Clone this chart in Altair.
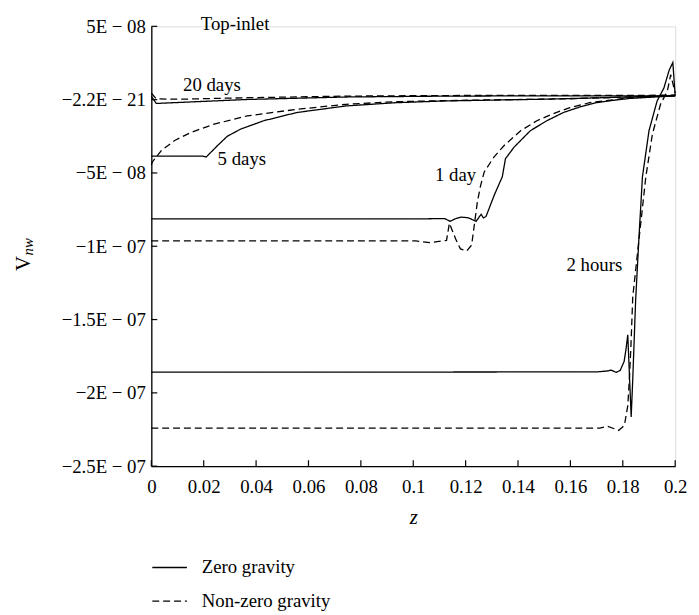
import altair as alt
import pandas as pd

FONT = "Liberation Serif"

# ---- data ----
z_2h_zero = [0, 0.1, 0.17, 0.1745, 0.1755, 0.1775, 0.179, 0.1805, 0.1812, 0.1819, 0.1826, 0.1832,
             0.1838, 0.1849, 0.1862, 0.1875, 0.1900, 0.1931, 0.1957, 0.1977, 0.1991, 0.2]
v_2h_zero = [-18.58e-8, -18.58e-8, -18.57e-8, -18.50e-8, -18.45e-8, -18.60e-8, -18.47e-8, -17.86e-8,
             -17.05e-8, -16.04e-8, -19.08e-8, -21.64e-8, -19.08e-8, -13.69e-8, -9.31e-8, -5.26e-8,
             -2.12e-8, -0.09e-8, 0.80e-8, 2.01e-8, 2.53e-8, 0.26e-8]

z_2h_grav = [0, 0.1, 0.1712, 0.1743, 0.1768, 0.1784, 0.1806, 0.1819, 0.1825, 0.1831, 0.1838, 0.1863,
             0.1888, 0.1913, 0.1944, 0.1970, 0.1983, 0.2]
v_2h_grav = [-22.40e-8, -22.40e-8, -22.40e-8, -22.29e-8, -22.45e-8, -22.56e-8, -22.22e-8, -20.88e-8,
             -19.08e-8, -16.83e-8, -13.46e-8, -9.33e-8, -5.26e-8, -2.35e-8, -0.32e-8, 0.58e-8,
             1.70e-8, 0.46e-8]

z_1d_zero = [0, 0.1, 0.112, 0.1141, 0.1160, 0.1183, 0.121, 0.124, 0.1259, 0.1268, 0.1278, 0.131,
             0.134, 0.1352, 0.1385, 0.1447, 0.151, 0.1573, 0.1636, 0.1698, 0.1762, 0.1825, 0.2]
v_1d_zero = [-8.14e-8, -8.14e-8, -8.11e-8, -8.30e-8, -8.13e-8, -8.01e-8, -8.06e-8, -8.30e-8, -7.82e-8,
             -8.07e-8, -7.96e-8, -6.48e-8, -5.26e-8, -4.03e-8, -3.24e-8, -2.12e-8, -1.44e-8, -0.88e-8,
             -0.50e-8, -0.21e-8, -0.05e-8, 0.08e-8, 0.26e-8]

z_1d_grav = [0, 0.1008, 0.1064, 0.1127, 0.1138, 0.1162, 0.118, 0.1204, 0.1223, 0.1245, 0.1257,
             0.1271, 0.1308, 0.1347, 0.141, 0.1472, 0.1535, 0.1598, 0.1674, 0.1762, 0.1825, 0.2]
v_1d_grav = [-9.64e-8, -9.64e-8, -9.76e-8, -9.60e-8, -8.43e-8, -9.51e-8, -10.18e-8, -10.32e-8,
             -9.91e-8, -6.95e-8, -5.87e-8, -4.93e-8, -3.92e-8, -3.13e-8, -2.12e-8, -1.44e-8,
             -0.95e-8, -0.55e-8, -0.21e-8, -0.01e-8, 0.13e-8, 0.30e-8]

z_5d_zero = [0, 0.0196, 0.0209, 0.0253, 0.029, 0.0341, 0.0429, 0.0555, 0.0743, 0.0932, 0.112, 0.15, 0.2]
v_5d_zero = [-3.85e-8, -3.85e-8, -3.92e-8, -3.13e-8, -2.50e-8, -2.01e-8, -1.44e-8, -0.88e-8,
             -0.43e-8, -0.21e-8, -0.09e-8, 0.03e-8, 0.26e-8]

z_5d_grav = [0, 0.0004, 0.0039, 0.0089, 0.0152, 0.024, 0.0366, 0.0555, 0.0743, 0.093, 0.12, 0.16, 0.2]
v_5d_grav = [-4.45e-8, -4.25e-8, -3.46e-8, -2.79e-8, -2.23e-8, -1.67e-8, -1.11e-8, -0.66e-8,
             -0.32e-8, -0.14e-8, -0.04e-8, 0.06e-8, 0.28e-8]

z_20d_zero = [0, 0.0019, 0.0365, 0.0743, 0.112, 0.15, 0.2]
v_20d_zero = [0.23e-8, -0.26e-8, 0.01e-8, 0.18e-8, 0.24e-8, 0.26e-8, 0.26e-8]

z_20d_grav = [0, 0.0019, 0.0113, 0.0366, 0.0743, 0.112, 0.2]
v_20d_grav = [0.45e-8, 0.05e-8, 0.03e-8, 0.13e-8, 0.24e-8, 0.28e-8, 0.30e-8]

gravity_names = ["Zero gravity", "Non-zero gravity"]

x_ticks = [0, 0.02, 0.04, 0.06, 0.08, 0.1, 0.12, 0.14, 0.16, 0.18, 0.2]
y_ticks = [5e-8, 0, -5e-8, -1e-7, -1.5e-7, -2e-7, -2.5e-7]
y_tick_labels = ["5E \u2212 08", "\u22122.2E \u2212 21", "\u22125E \u2212 08", "\u22121E \u2212 07",
                 "\u22121.5E \u2212 07", "\u22122E \u2212 07", "\u22122.5E \u2212 07"]

ann_text = ["20 days", "5 days", "1 day", "2 hours", "Top-inlet"]
ann_z = [0.0121, 0.0253, 0.1083, 0.1585, 0.0189]
ann_v = [1.0e-8, -4.05e-8, -5.13e-8, -11.26e-8, 5.18e-8]

# ---- build table ----
curves = [
    ("2h", 0, z_2h_zero, v_2h_zero), ("2h", 1, z_2h_grav, v_2h_grav),
    ("1d", 0, z_1d_zero, v_1d_zero), ("1d", 1, z_1d_grav, v_1d_grav),
    ("5d", 0, z_5d_zero, v_5d_zero), ("5d", 1, z_5d_grav, v_5d_grav),
    ("20d", 0, z_20d_zero, v_20d_zero), ("20d", 1, z_20d_grav, v_20d_grav),
]
rows = []
for t, g, zs, vs in curves:
    for i, (zz, vv) in enumerate(zip(zs, vs)):
        rows.append({"z": zz, "v": vv, "curve": t + str(g), "gravity": gravity_names[g], "order": i})
df = pd.DataFrame(rows)

ann_df = pd.DataFrame({"z": ann_z, "v": ann_v, "label": ann_text})
xt_df = pd.DataFrame({"z": x_ticks})
yt_df = pd.DataFrame({"v": y_ticks})

W, H = 530, 445

label_expr = ""
for val, lab in zip(y_ticks, y_tick_labels):
    label_expr += f"abs(datum.value - ({val})) < 1e-12 ? '{lab}' : "
label_expr += "''"

xscale = alt.Scale(domain=[0, 0.2], nice=False, zero=False)
yscale = alt.Scale(domain=[-2.5e-7, 5e-8], nice=False, zero=False)

xaxis = alt.Axis(values=x_ticks, format="~g", title="z", titleFontStyle="italic",
                 titleFont=FONT, titleFontSize=21, titleFontWeight="normal", titleColor="black",
                 titlePadding=10, labelFont=FONT, labelFontSize=19, labelColor="black",
                 ticks=False, tickSize=0, labelPadding=12, grid=False, domainColor="black",
                 domainWidth=1.3, labelFlush=False, labelOverlap=False)
yaxis = alt.Axis(values=y_ticks, labelExpr=label_expr, title=None,
                 labelFont=FONT, labelFontSize=19, labelColor="black",
                 ticks=False, tickSize=0, labelPadding=6, grid=False, domainColor="black",
                 domainWidth=1.3, labelFlush=False, labelOverlap=False)

X = alt.X("z:Q", scale=xscale, axis=xaxis, title="z")
Y = alt.Y("v:Q", scale=yscale, axis=yaxis, title=None)

lines = alt.Chart(df).mark_line(color="black", strokeWidth=1.3, clip=False).encode(
    x=X, y=Y,
    detail="curve:N",
    order="order:Q",
    strokeDash=alt.StrokeDash("gravity:N",
                              scale=alt.Scale(domain=gravity_names, range=[[1, 0], [7, 4]]),
                              legend=alt.Legend(title=None, orient="none", legendX=0, legendY=529,
                                                symbolType="stroke", symbolSize=1225,
                                                symbolStrokeColor="black", symbolStrokeWidth=1.3,
                                                labelFont=FONT, labelFontSize=19, labelColor="black",
                                                labelOffset=14, rowPadding=5, padding=0)),
)

xticks = alt.Chart(xt_df).mark_rule(color="black", strokeWidth=1.2).encode(
    x=X, y=alt.value(H), y2=alt.value(H - 6),
)
yticks = alt.Chart(yt_df).mark_rule(color="black", strokeWidth=1.2).encode(
    y=Y, x=alt.value(0), x2=alt.value(6),
)

ann = alt.Chart(ann_df).mark_text(font=FONT, fontSize=19, color="black", align="left",
                                   baseline="middle", clip=False).encode(
    x=X, y=Y, text="label:N",
)

ytitle_v = alt.Chart(pd.DataFrame({"t": ["V"]})).mark_text(
    font=FONT, fontSize=21, color="black", angle=270, align="center", baseline="middle"
).encode(x=alt.value(-129), y=alt.value(240), text="t:N")
ytitle_nw = alt.Chart(pd.DataFrame({"t": ["nw"]})).mark_text(
    font=FONT, fontSize=15, fontStyle="italic", color="black", angle=270, align="center",
    baseline="middle"
).encode(x=alt.value(-125), y=alt.value(223), text="t:N")

chart = alt.layer(lines, xticks, yticks, ann, ytitle_v, ytitle_nw).properties(
    width=W, height=H,
    padding={"left": 145, "top": 15, "right": 16, "bottom": 145},
    autosize=alt.AutoSizeParams(type="none"),
).configure_view(stroke=None).configure(background="white")

chart.save("out.html", embed_options={"renderer": "svg", "actions": False})
